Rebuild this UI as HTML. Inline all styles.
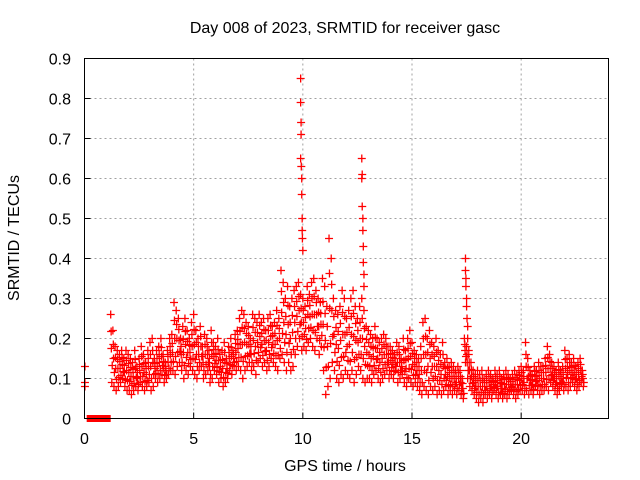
<!DOCTYPE html>
<html><head><meta charset="utf-8"><style>
body{margin:0;background:#fff}
svg{display:block;font-family:"Liberation Sans",sans-serif;font-size:16px}
</style></head><body>
<svg id="chart" width="640" height="480" viewBox="0 0 640 480" xmlns="http://www.w3.org/2000/svg">
<rect width="640" height="480" fill="#fff"/>
<g id="grid"></g>
<g id="ticks"></g>
<g id="marks"></g>
<rect x="84.5" y="58.5" width="524" height="360" fill="none" stroke="#000"/>
<text x="345" y="33" text-anchor="middle">Day 008 of 2023, SRMTID for receiver gasc</text>
<text x="345" y="471" text-anchor="middle">GPS time / hours</text>
<text transform="translate(19,238) rotate(-90)" text-anchor="middle">SRMTID / TECUs</text>
</svg>
<script>
const xTicks=[0,5,10,15,20];
const yTicks=[0,0.1,0.2,0.3,0.4,0.5,0.6,0.7,0.8,0.9];
const startHour=1.2, stepHour=0.1;
const hi=[.26,.22,.18,.17,.16,.17,.15,.17,
.16,.15,.14,.17,.13,.15,.18,.16,.14,.17,
.19,.2,.15,.17,.18,.2,.16,.14,.17,.2,
.21,.29,.27,.25,.2,.23,.25,.22,.2,.24,
.26,.22,.2,.23,.18,.21,.2,.17,.22,.19,
.18,.2,.16,.17,.19,.15,.18,.2,.17,.21,
.22,.25,.27,.26,.24,.23,.2,.26,.25,.24,
.26,.24,.25,.22,.25,.26,.23,.24,.27,.25,
.37,.34,.3,.33,.28,.3,.32,.33,.34,.31,
.3,.28,.33,.31,.34,.35,.32,.3,.29,.35,
.33,.28,.45,.4,.3,.27,.26,.28,.32,.3,
.25,.27,.3,.32,.28,.25,.28,.3,.27,.23,
.22,.21,.2,.23,.2,.19,.2,.21,.2,.18,
.18,.17,.16,.19,.18,.15,.2,.17,.2,.22,
.19,.17,.16,.15,.18,.24,.25,.2,.22,.19,
.18,.2,.17,.16,.19,.14,.15,.13,.14,.13,
.12,.13,.12,.1,.2,.18,.16,.14,.12,.11,
.12,.11,.12,.1,.11,.12,.11,.1,.12,.11,
.12,.1,.11,.12,.11,.1,.11,.12,.11,.12,
.13,.12,.19,.15,.12,.11,.13,.12,.14,.13,
.13,.15,.18,.16,.14,.13,.12,.14,.12,.13,
.17,.15,.16,.14,.15,.13,.14,.15,.12];
const lo=[.09,.08,.07,.08,.09,.1,.08,.07,
.07,.06,.07,.08,.07,.09,.08,.07,.08,.09,
.07,.08,.1,.09,.1,.11,.09,.1,.11,.12,
.12,.11,.13,.14,.12,.1,.12,.11,.13,.12,
.11,.1,.12,.13,.1,.11,.12,.09,.1,.12,
.11,.09,.1,.08,.09,.1,.12,.11,.13,.12,
.13,.12,.1,.12,.13,.14,.12,.13,.11,.14,
.15,.13,.14,.12,.13,.15,.14,.13,.12,.15,
.16,.14,.12,.14,.12,.13,.16,.18,.2,.17,
.18,.17,.19,.2,.18,.17,.2,.16,.18,.12,
.06,.08,.1,.14,.12,.1,.09,.11,.1,.12,
.11,.1,.12,.09,.11,.13,.12,.1,.09,.1,
.1,.09,.11,.12,.1,.09,.1,.11,.12,.1,
.11,.1,.12,.09,.1,.11,.09,.08,.1,.09,
.08,.09,.08,.07,.06,.08,.07,.06,.08,.07,
.08,.06,.07,.06,.07,.08,.06,.07,.06,.07,
.06,.07,.06,.05,.14,.1,.08,.07,.06,.05,
.04,.05,.04,.06,.05,.06,.05,.07,.06,.05,
.06,.05,.06,.05,.06,.07,.06,.05,.06,.07,
.07,.06,.07,.06,.07,.06,.08,.07,.06,.07,
.07,.08,.07,.09,.08,.07,.06,.07,.08,.07,
.08,.07,.08,.09,.08,.07,.08,.09,.08];
const spikeT=[0.02,0.02,0.02,9.9,9.9,9.92,9.92,9.9,9.93,9.95,9.95,9.97,9.97,9.98,10.0,12.7,12.7,12.72,12.72,12.75,12.75,12.77,12.77,12.8,12.8,17.45,17.45,17.47,17.47,17.5,17.5,17.52,17.55,17.55,17.6];
const spikeV=[0.08,0.13,0.09,0.85,0.79,0.74,0.71,0.65,0.63,0.6,0.56,0.5,0.47,0.45,0.42,0.65,0.6,0.61,0.53,0.5,0.47,0.43,0.39,0.36,0.33,0.4,0.37,0.35,0.33,0.3,0.28,0.25,0.23,0.2,0.17];
const gapStart=0.1, gapEnd=1.2;

const NS="http://www.w3.org/2000/svg";
const X=h=>84.5+h*(524/24);
const Y=v=>418.5-v*400;
const grid=document.getElementById('grid'),ticks=document.getElementById('ticks'),marks=document.getElementById('marks');
function mk(tag,attrs,parent){const e=document.createElementNS(NS,tag);for(const k in attrs)e.setAttribute(k,attrs[k]);parent.appendChild(e);return e;}
xTicks.forEach(t=>{
 if(t>0){const g=mk('line',{x1:X(t),x2:X(t),y1:58.5,y2:418.5,stroke:'#a0a0a0','stroke-dasharray':'2,3'},grid);
 
 }
 const l=mk('text',{x:X(t),y:444,'text-anchor':'middle'},ticks);l.textContent=t;
 
 
 mk('line',{x1:X(t),x2:X(t),y1:418.5,y2:412.5,stroke:'#000'},ticks);
});
yTicks.forEach(t=>{
 if(t>0){const g=mk('line',{x1:84.5,x2:608.5,y1:Y(t),y2:Y(t),stroke:'#a0a0a0','stroke-dasharray':'2,3'},grid);
 
 }
 const l=mk('text',{x:71,y:Y(t)+6,'text-anchor':'end'},ticks);l.textContent=t===0?'0':t.toFixed(1);
 
 
 mk('line',{x1:84.5,x2:90.5,y1:Y(t),y2:Y(t),stroke:'#000'},ticks);
});
let d='';
function plus(h,v){const x=X(h),y=Y(v);d+=`M${x-4},${y}h8M${x},${y-4}v8`;}
hi.forEach((v,i)=>{
 const h=startHour+i*stepHour;
 const l=lo[i];
 plus(h,v);plus(h+0.05,l);
 plus(h+0.03,l+(v-l)*0.5);plus(h+0.07,l+(v-l)*0.25);plus(h+0.02,l+(v-l)*0.75);
});
spikeT.forEach((h,i)=>plus(h,spikeV[i]));
const p=mk('path',{d:d,stroke:'#f00','stroke-width':'1.3',fill:'none'},marks);


const gap=mk('rect',{x:X(gapStart),y:Y(0)-3.5,width:X(gapEnd)-X(gapStart),height:7,fill:'#f00'},marks);


</script>
</body></html>
